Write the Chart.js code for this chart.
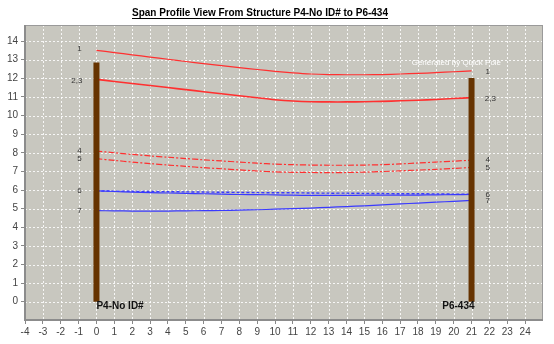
<!DOCTYPE html>
<html>
<head>
<meta charset="utf-8">
<script src="https://cdn.jsdelivr.net/npm/chart.js@4/dist/chart.umd.min.js"></script>
<style>
    html, body { margin: 0; padding: 0; background: #ffffff; }
    #wrap { width: 554px; height: 344px; position: relative; }
</style>
</head>
<body>
<div id="wrap"><canvas id="grafico"></canvas></div>
<script>
    // Span distance (x) and attachment heights per wire
    const spanX = [0, 1, 2, 3, 4, 5, 6, 7, 8, 9, 10, 11, 12, 13, 14, 15, 16, 17, 18, 19, 20, 21];
    const wire1 = [13.5, 13.38, 13.26, 13.14, 13.02, 12.9, 12.79, 12.68, 12.57, 12.47, 12.37, 12.29, 12.23, 12.2, 12.19, 12.19, 12.2, 12.23, 12.26, 12.3, 12.35, 12.4];
    const wire23 = [11.94, 11.83, 11.72, 11.61, 11.5, 11.39, 11.28, 11.17, 11.06, 10.95, 10.85, 10.78, 10.74, 10.73, 10.73, 10.74, 10.76, 10.79, 10.82, 10.86, 10.91, 10.96];
    const wire4 = [8.09, 8.0, 7.91, 7.83, 7.76, 7.69, 7.62, 7.56, 7.5, 7.44, 7.39, 7.36, 7.34, 7.33, 7.33, 7.34, 7.36, 7.4, 7.45, 7.5, 7.55, 7.6];
    const wire5 = [7.68, 7.59, 7.5, 7.42, 7.34, 7.27, 7.2, 7.14, 7.08, 7.02, 6.97, 6.95, 6.94, 6.93, 6.94, 6.96, 6.99, 7.03, 7.07, 7.11, 7.16, 7.21];
    const wire6 = [5.95, 5.94, 5.93, 5.92, 5.91, 5.9, 5.89, 5.88, 5.87, 5.86, 5.85, 5.85, 5.84, 5.83, 5.83, 5.82, 5.81, 5.8, 5.8, 5.79, 5.78, 5.77];
    const wire6b = [5.95, 5.92, 5.89, 5.86, 5.84, 5.82, 5.8, 5.78, 5.76, 5.75, 5.74, 5.72, 5.71, 5.71, 5.71, 5.72, 5.72, 5.73, 5.73, 5.74, 5.75, 5.76];
    const wire7 = [4.89, 4.88, 4.87, 4.87, 4.87, 4.88, 4.89, 4.9, 4.92, 4.94, 4.97, 5.0, 5.03, 5.07, 5.11, 5.15, 5.2, 5.25, 5.3, 5.35, 5.39, 5.44];

    const poleX = [0, 21];
    const poleTop = [12.85, 12.02];
    const poleNames = ['P4-No ID#', 'P6-434'];

    const leftLabels = ['1', '2,3', '4', '5', '6', '7'];
    const leftLabelY = [13.6, 11.85, 8.1, 7.65, 5.95, 4.88];
    const rightLabels = ['1', '2,3', '4', '5', '6', '7'];
    const rightLabelY = [12.35, 10.9, 7.6, 7.18, 5.75, 5.4];

    const titulo = 'Span Profile View From Structure P4-No ID# to P6-434';
    const marcaAgua = 'Generated by Quick Pole';

    const ROJO = '#ff3030';
    const AZUL = '#3a3aff';

    function puntos(valores) {
        return spanX.map((x, i) => ({ x, y: valores[i] }));
    }

    function crearWire(label, valores, color, ancho, dash) {
        return {
            label,
            data: puntos(valores),
            borderColor: color,
            backgroundColor: color,
            borderWidth: ancho,
            borderDash: dash || [],
            pointRadius: 0,
            tension: 0.3,
            fill: false
        };
    }

    const poleDatasets = poleX.map((x, i) => ({
        label: poleNames[i],
        data: [{ x, y: 0 }, { x, y: poleTop[i] }],
        borderColor: '#663300',
        borderWidth: 6,
        borderCapStyle: 'butt',
        pointRadius: 0,
        fill: false
    }));

    // plot background, dotted grid and frame
    const fondoPlot = {
        id: 'fondoPlot',
        beforeDatasetsDraw(chart) {
            const { ctx, chartArea: a, scales: { x, y } } = chart;
            ctx.save();
            ctx.fillStyle = '#c8c7bf';
            ctx.fillRect(a.left, a.top, a.right - a.left, a.bottom - a.top);
            ctx.strokeStyle = 'rgba(255,255,255,0.85)';
            ctx.lineWidth = 1;
            ctx.setLineDash([2, 2]);
            ctx.beginPath();
            x.ticks.forEach(t => {
                const px = Math.round(x.getPixelForValue(t.value)) + 0.5;
                ctx.moveTo(px, a.top);
                ctx.lineTo(px, a.bottom);
            });
            y.ticks.forEach(t => {
                const py = Math.round(y.getPixelForValue(t.value)) + 0.5;
                ctx.moveTo(a.left, py);
                ctx.lineTo(a.right, py);
            });
            ctx.stroke();
            ctx.restore();
        },
        afterDraw(chart) {
            const { ctx, chartArea: a } = chart;
            ctx.save();
            ctx.strokeStyle = '#9a9a9a';
            ctx.lineWidth = 1;
            ctx.strokeRect(a.left + 0.5, a.top + 0.5, a.right - a.left - 1, a.bottom - a.top - 1);
            ctx.fillStyle = '#8c8c8c';
            ctx.fillRect(a.left - 1, a.top, 2, a.bottom - a.top + 1);
            ctx.fillRect(a.left - 1, a.bottom - 1, a.right - a.left + 1, 2);
            ctx.restore();
        }
    };

    const textos = {
        id: 'textos',
        afterDatasetsDraw(chart) {
            const { ctx, scales: { x, y } } = chart;
            ctx.save();

            // wire numbers
            ctx.font = '8px Arial, "Liberation Sans", sans-serif';
            ctx.fillStyle = '#333333';
            ctx.textAlign = 'center';
            ctx.textBaseline = 'middle';
            leftLabels.forEach((t, i) => {
                const px = t.length > 1 ? x.getPixelForValue(-1.1) : x.getPixelForValue(-0.95);
                ctx.fillText(t, px, y.getPixelForValue(leftLabelY[i]));
            });
            rightLabels.forEach((t, i) => {
                const px = t.length > 1 ? x.getPixelForValue(22.05) : x.getPixelForValue(21.9);
                ctx.fillText(t, px, y.getPixelForValue(rightLabelY[i]));
            });

            // pole names
            ctx.font = 'bold 10px Arial, "Liberation Sans", sans-serif';
            ctx.fillStyle = '#111111';
            ctx.textAlign = 'left';
            ctx.fillText(poleNames[0], x.getPixelForValue(poleX[0]), y.getPixelForValue(-0.25));
            ctx.textAlign = 'right';
            ctx.fillText(poleNames[1], x.getPixelForValue(poleX[1]) + 3, y.getPixelForValue(-0.25));

            // watermark
            ctx.font = '8px Arial, "Liberation Sans", sans-serif';
            ctx.fillStyle = '#ffffff';
            ctx.textAlign = 'center';
            ctx.fillText(marcaAgua, x.getPixelForValue(20.15), y.getPixelForValue(12.85));

            // title (underlined)
            ctx.font = 'bold 10px Arial, "Liberation Sans", sans-serif';
            ctx.fillStyle = '#000000';
            ctx.textAlign = 'center';
            ctx.textBaseline = 'alphabetic';
            const tx = 260, ty = 16;
            ctx.fillText(titulo, tx, ty);
            const w = ctx.measureText(titulo).width;
            ctx.fillRect(tx - w / 2, ty + 2, w, 1);

            ctx.restore();
        }
    };

    const ejeComun = {
        type: 'linear',
        grid: {
            color: 'rgba(0,0,0,0)',
            lineWidth: 1,
            tickLength: 4,
            tickColor: '#888888',
            drawTicks: true
        },
        border: { display: false },
        ticks: {
            stepSize: 1,
            color: '#444444',
            font: { family: 'Arial, "Liberation Sans", sans-serif', size: 10 },
            autoSkip: false,
            maxRotation: 0,
            padding: 2
        }
    };

    new Chart(document.getElementById('grafico'), {
        type: 'line',
        data: {
            datasets: [
                ...poleDatasets,
                crearWire('1', wire1, ROJO, 1.2),
                crearWire('2,3', wire23, ROJO, 1.6),
                crearWire('4', wire4, ROJO, 1.2, [6, 2, 2, 2]),
                crearWire('5', wire5, ROJO, 1.2, [6, 2, 2, 2]),
                crearWire('6', wire6, AZUL, 1.4, [3, 2]),
                crearWire('6b', wire6b, AZUL, 1.2),
                crearWire('7', wire7, AZUL, 1.2)
            ]
        },
        options: {
            responsive: true,
            maintainAspectRatio: false,
            animation: false,
            layout: { padding: { top: 25, right: 11, left: 0, bottom: 0 } },
            plugins: {
                legend: { display: false },
                tooltip: { enabled: false },
                title: { display: false }
            },
            scales: {
                x: {
                    ...ejeComun,
                    min: -4,
                    max: 25,
                    afterBuildTicks(scale) {
                        scale.ticks = scale.ticks.filter(t => Math.abs(t.value - Math.round(t.value)) < 1e-6 && t.value < 24.5);
                    },
                    afterFit(scale) { scale.height = 24; }
                },
                y: {
                    ...ejeComun,
                    min: -0.98,
                    max: 14.86,
                    ticks: { ...ejeComun.ticks, padding: 3 },
                    afterBuildTicks(scale) {
                        scale.ticks = scale.ticks.filter(t => Math.abs(t.value - Math.round(t.value)) < 1e-6);
                    },
                    afterFit(scale) { scale.width = 25; }
                }
            }
        },
        plugins: [fondoPlot, textos]
    });
</script>
</body>
</html>
